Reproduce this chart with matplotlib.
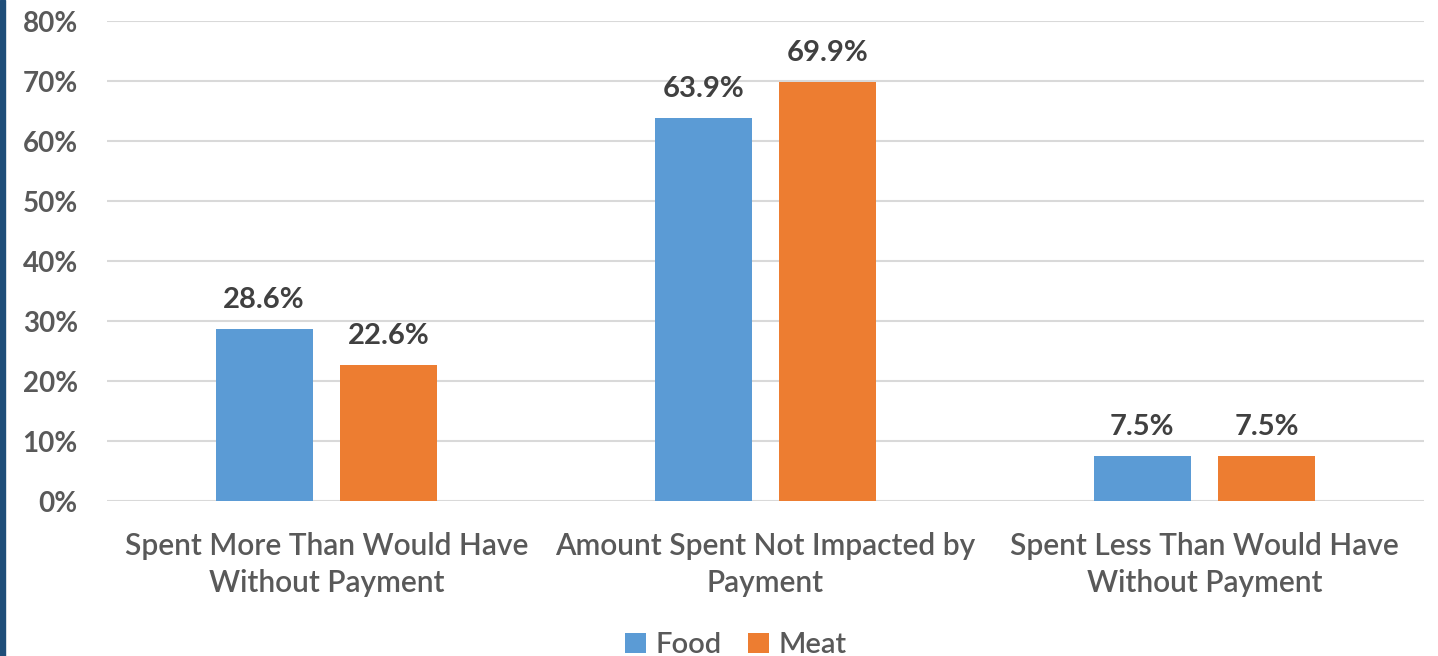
import numpy as np
import matplotlib
matplotlib.use('Agg')
import matplotlib.pyplot as plt
from matplotlib.patches import Rectangle
from matplotlib.ticker import FuncFormatter

# data
categories = ['Spent More Than Would Have\nWithout Payment',
              'Amount Spent Not Impacted by\nPayment',
              'Spent Less Than Would Have\nWithout Payment']
food = [0.286, 0.639, 0.075]
meat = [0.226, 0.699, 0.075]
series_names = ['Food', 'Meat']
yticks = [0, 0.1, 0.2, 0.3, 0.4, 0.5, 0.6, 0.7, 0.8]

plt.rcParams['font.family'] = ['Lato', 'DejaVu Sans']
txt_color = '#595959'

fig = plt.figure(figsize=(14.38, 6.56), dpi=100)
ax = fig.add_axes([107 / 1438, 1 - 501 / 656, (1424 - 107) / 1438, 480 / 656])

# blue band on the left edge
fig.patches.append(Rectangle((0, 0), 5 / 1438, 1, transform=fig.transFigure,
                             color='#1F4E79', zorder=5))

x = np.arange(len(categories))
w = 0.221
off = 0.142
b1 = ax.bar(x - off, food, w, color='#5B9BD5', label=series_names[0], zorder=3)
b2 = ax.bar(x + off, meat, w, color='#ED7D31', label=series_names[1], zorder=3)

for bars in (b1, b2):
    for b in bars:
        h = b.get_height()
        ax.annotate(f'{h * 100:.1f}%', (b.get_x() + b.get_width() / 2, h),
                    xytext=(0, 21), textcoords='offset pixels',
                    ha='center', va='baseline', fontsize=21, fontweight='bold',
                    color='#404040')

ax.set_xlim(-0.5, 2.5)
ax.set_ylim(0, 0.8)
ax.set_yticks(yticks)
ax.yaxis.set_major_formatter(FuncFormatter(lambda v, p: f'{v * 100:.0f}%'))
ax.set_xticks(x)
ax.set_xticklabels(categories, fontsize=21.5, color=txt_color, linespacing=1.42,
                   fontweight='semibold')
for lbl in ax.get_yticklabels():
    lbl.set_fontsize(20)
    lbl.set_fontweight('bold')
    lbl.set_color(txt_color)

ax.tick_params(axis='both', length=0)
ax.tick_params(axis='y', pad=21)
ax.tick_params(axis='x', pad=22)
ax.grid(axis='y', color='#d9d9d9', linewidth=1.5, zorder=0)
for s in ax.spines.values():
    s.set_visible(False)

leg = fig.legend(handles=[b1, b2], labels=series_names, loc='center',
                 bbox_to_anchor=(736 / 1438, 1 - 645 / 656), ncol=2, frameon=False,
                 handlelength=0.7, handleheight=0.7,
                 handletextpad=0.35, columnspacing=0.9,
                 prop={'size': 21, 'weight': 'semibold'})
for t in leg.get_texts():
    t.set_color(txt_color)

fig.savefig('out.png', dpi=100)
